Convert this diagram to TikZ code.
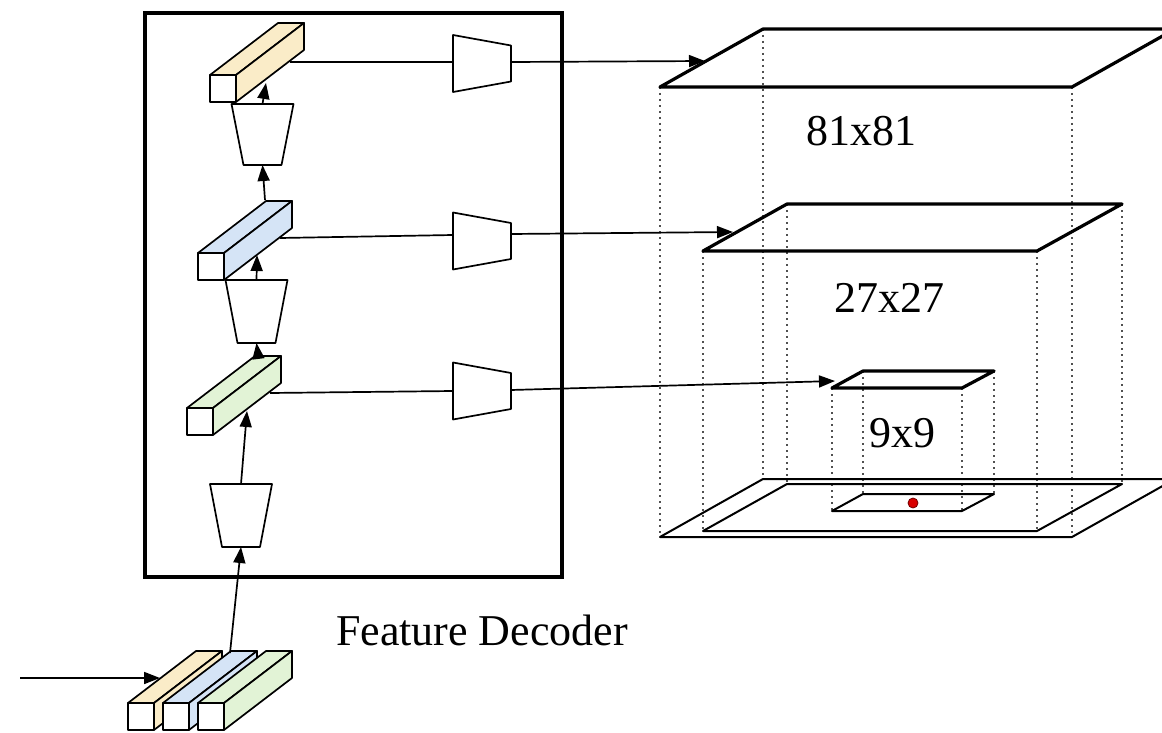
\documentclass[tikz,border=0pt]{standalone}
\usepackage{fontspec}
\setmainfont{Liberation Serif}
\usetikzlibrary{arrows.meta}

\definecolor{featY}{HTML}{FAECC8}
\definecolor{featB}{HTML}{D5E4F6}
\definecolor{featG}{HTML}{E2F3D6}
\definecolor{dotcol}{HTML}{505050}

\tikzset{
  thinline/.style={line width=1.7pt, line join=round},
  conn/.style={thinline, -{Triangle[length=16pt,width=12pt]}},
  plane/.style={line width=3.2pt, line join=round},
  baseplane/.style={line width=2pt, line join=round},
  proj/.style={line width=2.2pt, dotcol, dash pattern=on 2.2pt off 3.8pt},
  boxline/.style={line width=3.4pt},
  lbl/.style={font=\fontsize{44}{50}\selectfont, anchor=base, inner sep=0pt},
}

% feature block: name, x, y of the front top-left corner, fill colour
\newcommand\featblock[4]{%
  \draw[thinline, fill=#4] (#2,#3) -- ++(26,0) -- ++(68,-52) -- ++(-26,0) -- cycle;
  \draw[thinline, fill=#4] (#2+26,#3) -- ++(0,27) -- ++(68,-52) -- ++(0,-27) -- cycle;
  \draw[thinline, fill=white] (#2,#3) rectangle ++(26,27);
  \coordinate (#1) at (#2,#3);
}
% upsampling trapezoid: name, centre x, top y, height
\newcommand\uptrap[4]{%
  \draw[thinline, fill=white] (#2-31,#3) -- (#2+31,#3) -- (#2+19,#3+#4) -- (#2-19,#3+#4) -- cycle;
  \coordinate (#1-top) at (#2,#3);
  \coordinate (#1-bot) at (#2,#3+#4);
}
% head trapezoid: name, left x, centre y
\newcommand\headtrap[3]{%
  \draw[thinline, fill=white] (#2,#3-28.5) -- (#2+58,#3-18) -- (#2+58,#3+18) -- (#2,#3+28.5) -- cycle;
  \coordinate (#1) at (#2,#3);
}

\begin{document}
\begin{tikzpicture}[x=1pt, y=-1pt]
\useasboundingbox (0,0) rectangle (1162,733);
\clip (0,0) rectangle (1162,733);

% ---------- decoder frame ----------
\draw[boxline] (145,13) rectangle (562,577);
\node[lbl] (declabel) at (482,645) {Feature Decoder};

% ---------- multi-scale planes ----------
\coordinate (p81a) at (660,87);  \coordinate (p81b) at (1072,87);
\coordinate (p81c) at (1175,29); \coordinate (p81d) at (763,29);
\coordinate (p27a) at (703,251); \coordinate (p27b) at (1037,251);
\coordinate (p27c) at (1122,204);\coordinate (p27d) at (787,204);
\coordinate (p9a) at (832,388);  \coordinate (p9b) at (962,388);
\coordinate (p9c) at (994,371);  \coordinate (p9d) at (863,371);

% projection lines down to the base plane
\foreach \c in {a,b,c,d} {
  \draw[proj] (p81\c) -- ([yshift=-450pt]p81\c);
  \draw[proj] (p27\c) -- ([yshift=-280pt]p27\c);
  \draw[proj] (p9\c)  -- ([yshift=-123pt]p9\c);
}

\draw[plane] (p81a) -- (p81b) -- (p81c) -- (p81d) -- cycle;
\draw[plane] (p27a) -- (p27b) -- (p27c) -- (p27d) -- cycle;
\draw[plane] (p9a) -- (p9b) -- (p9c) -- (p9d) -- cycle;

% base plane with the projected outlines
\draw[baseplane] ([yshift=-450pt]p81a) -- ([yshift=-450pt]p81b) -- ([yshift=-450pt]p81c) -- ([yshift=-450pt]p81d) -- cycle;
\draw[baseplane] ([yshift=-280pt]p27a) -- ([yshift=-280pt]p27b) -- ([yshift=-280pt]p27c) -- ([yshift=-280pt]p27d) -- cycle;
\draw[baseplane] ([yshift=-123pt]p9a) -- ([yshift=-123pt]p9b) -- ([yshift=-123pt]p9c) -- ([yshift=-123pt]p9d) -- cycle;
\node[circle, fill=red!85!black, draw=red!45!black, line width=0.8pt, minimum size=10pt, inner sep=0pt] (query) at (913,503) {};

\node[lbl] (l81) at (861,146) {81x81};
\node[lbl] (l27) at (889,312) {27x27};
\node[lbl] (l9)  at (902,447) {9x9};

% ---------- decoder column ----------
\featblock{fg}{187}{408}{featG}
\featblock{fb}{198}{253}{featB}
\featblock{fy}{210}{75}{featY}
\uptrap{u1}{241}{484}{63}
\uptrap{u2}{256.5}{280}{63}
\uptrap{u3}{262.5}{104}{61}

% ---------- heads ----------
\headtrap{h1}{453}{63.5}
\headtrap{h2}{453}{241}
\headtrap{h3}{453}{391}

% ---------- input features ----------
\featblock{iny}{128}{703}{featY}
\featblock{inb}{163}{703}{featB}
\featblock{ing}{198}{703}{featG}

% ---------- connectors ----------
\coordinate (src) at (20,678);
\coordinate (iny-top) at (160,678);
\coordinate (inb-top) at (230,653);
\coordinate (fg-side) at (247,411);
\coordinate (fg-top) at (258,355);
\coordinate (fb-side) at (257,255);
\coordinate (fb-top) at (265,200);
\coordinate (fy-side) at (266,83);

\coordinate (fy-out) at (290,62);   \coordinate (h1-in) at (453,62);
\coordinate (fb-out) at (280,238);  \coordinate (h2-in) at (453,235);
\coordinate (fg-out) at (270,393);  \coordinate (h3-in) at (453,391);
\coordinate (h1-out) at (511,62);   \coordinate (p81-in) at (705,61);
\coordinate (h2-out) at (511,234);  \coordinate (p27-in) at (733,232);
\coordinate (h3-out) at (511,390);  \coordinate (p9-in) at (835,381);

\draw[conn] (src) -- (iny-top);
\draw[conn] (inb-top) -- (u1-bot);
\draw[conn] (u1-top) -- (fg-side);
\draw[conn] (fg-top) -- (u2-bot);
\draw[conn] (u2-top) -- (fb-side);
\draw[conn] (fb-top) -- (u3-bot);
\draw[conn] (u3-top) -- (fy-side);

\draw[thinline] (fy-out) -- (h1-in);
\draw[thinline] (fb-out) -- (h2-in);
\draw[thinline] (fg-out) -- (h3-in);
\draw[conn] (h1-out) -- (p81-in);
\draw[conn] (h2-out) -- (p27-in);
\draw[conn] (h3-out) -- (p9-in);
\end{tikzpicture}
\end{document}
